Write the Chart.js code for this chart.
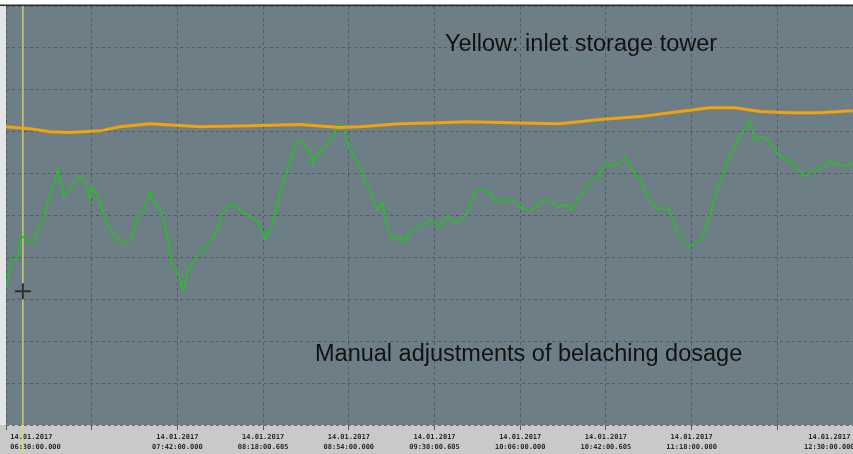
<!DOCTYPE html>
<html lang="en">
<head>
  <meta charset="UTF-8" />
  <title>Bleaching dosage trend</title>
  <script src="https://cdn.jsdelivr.net/npm/chart.js"></script>
  <style>
    html, body {
      margin: 0;
      padding: 0;
      overflow: hidden;
      background: #fff;
    }
    .wrap {
      position: relative;
      width: 865px;
      height: 454px;
    }
  </style>
</head>
<body>
  <div class="wrap">
    <canvas id="chart"></canvas>
  </div>

  <script>
    // === Data (x = minutes after 06:30, y = grid units 0..10) ===
    const tickDates = ['14.01.2017', '', '14.01.2017', '14.01.2017', '14.01.2017', '14.01.2017',
                       '14.01.2017', '14.01.2017', '14.01.2017', '', '14.01.2017'];
    const tickTimes = ['06:30:00.000', '', '07:42:00.000', '08:18:00.605', '08:54:00.000', '09:30:00.605',
                       '10:06:00.000', '10:42:00.605', '11:18:00.000', '', '12:30:00.000'];

    // Yellow: inlet storage tower
    const towerT = [0, 10.1, 18.5, 26.9, 39.5, 47.9, 60.5, 81.5, 102.5, 123.5, 140.3, 148.7,
                    165.5, 178.1, 194.9, 215.9, 232.7, 249.5, 266.3, 283.1, 295.7, 306.2,
                    316.7, 329.3, 341.9, 355.7];
    const towerV = [7.12, 7.07, 7.00, 6.98, 7.02, 7.12, 7.19, 7.12, 7.14, 7.17, 7.10, 7.12,
                    7.19, 7.21, 7.24, 7.21, 7.19, 7.29, 7.36, 7.48, 7.57, 7.57,
                    7.48, 7.45, 7.45, 7.50];

    // Green: bleaching dosage
    const dosageT = [0, 2.5, 5.0, 6.7, 8.8, 10.9, 13.4, 16.0, 18.5, 20.6, 21.8, 22.7, 24.4, 26.9,
                     29.0, 31.1, 33.2, 35.3, 36.1, 39.5, 41.6, 44.5, 47.9, 50.0, 52.9, 55.4, 58.4,
                     60.5, 62.6, 65.5, 68.0, 69.7, 72.2, 73.9, 74.8, 76.4, 79.4, 82.3, 85.7, 89.0,
                     91.1, 93.2, 96.2, 99.1, 102.5, 105.8, 108.8, 111.7, 114.2, 117.2, 120.1, 122.6,
                     125.6, 127.7, 128.9, 129.8, 131.9, 135.2, 137.3, 140.3, 142.4, 144.5, 147.8,
                     150.8, 153.7, 156.2, 158.3, 160.4, 162.5, 165.5, 167.6, 169.7, 173.9, 178.1,
                     182.3, 185.2, 188.6, 190.7, 194.0, 197.0, 199.1, 203.3, 205.4, 209.6, 213.8,
                     216.7, 220.1, 224.3, 228.5, 231.8, 234.8, 237.7, 241.1, 245.3, 249.5, 252.0,
                     254.5, 257.9, 260.4, 262.9, 266.3, 269.6, 272.6, 275.5, 278.0, 279.7, 282.2,
                     284.8, 287.3, 289.8, 292.3, 295.7, 298.2, 300.7, 303.2, 305.8, 308.3, 310.8,
                     312.5, 314.6, 317.5, 320.0, 323.0, 325.9, 329.3, 332.6, 335.6, 338.5, 341.9,
                     346.1, 350.3, 353.6, 355.7];
    const dosageV = [3.31, 3.88, 4.02, 4.50, 4.43, 4.36, 4.60, 4.98, 5.45, 5.86, 6.10, 5.93, 5.45, 5.62,
                     5.79, 5.93, 5.79, 5.38, 5.69, 5.38, 4.90, 4.60, 4.36, 4.31, 4.50, 4.95, 5.21,
                     5.55, 5.31, 5.07, 4.43, 3.79, 3.64, 3.31, 3.21, 3.71, 3.95, 4.14, 4.36, 4.67,
                     5.07, 5.21, 5.26, 5.10, 4.98, 4.86, 4.43, 4.74, 5.31, 5.93, 6.40, 6.81,
                     6.69, 6.50, 6.21, 6.38, 6.50, 6.74, 6.88, 7.21, 6.98, 6.57, 6.26,
                     5.86, 5.45, 5.14, 5.31, 4.67, 4.43, 4.50, 4.36, 4.62, 4.71, 4.90,
                     4.74, 4.98, 4.83, 4.90, 5.07, 5.55, 5.62, 5.55, 5.31, 5.38, 5.33,
                     5.19, 5.10, 5.31, 5.38, 5.19, 5.26, 5.14, 5.45, 5.79, 5.98, 6.26,
                     6.17, 6.26, 6.40, 6.10, 5.86, 5.45, 5.19, 5.14, 5.21, 4.98, 4.60,
                     4.36, 4.26, 4.36, 4.43, 4.98, 5.55, 5.93, 6.26, 6.64, 6.88, 7.12,
                     7.24, 6.81, 6.88, 6.81, 6.57, 6.38, 6.29, 6.10, 5.93, 6.05, 6.10,
                     6.29, 6.21, 6.17, 6.26];

    // cursor
    const cursorT = 7.1;
    const cursorV = 3.19;

    const notes = [
      { text: 'Yellow: inlet storage tower', t: 184.4, v: 8.92 },
      { text: 'Manual adjustments of belaching dosage', t: 129.8, v: 1.52 }
    ];

    const toXY = (ts, vs) => ts.map((t, i) => ({ x: t, y: vs[i] }));

    // === Plot background, axis band, cursor, annotations ===
    const scopePlugin = {
      id: 'scope',
      beforeDraw(chart) {
        const { ctx, chartArea: a, width, height } = chart;
        ctx.save();
        ctx.fillStyle = '#ffffff';
        ctx.fillRect(0, 0, width, height);
        ctx.fillStyle = '#e4e6e6';
        ctx.fillRect(0, a.top, a.left, a.bottom - a.top);
        ctx.fillStyle = '#6e7e87';
        ctx.fillRect(a.left, a.top, a.right - a.left, a.bottom - a.top);
        ctx.fillStyle = '#c9c9c9';
        ctx.fillRect(0, a.bottom, width, height - a.bottom);
        ctx.strokeStyle = '#2b2b2b';
        ctx.lineWidth = 1.5;
        ctx.beginPath();
        ctx.moveTo(0, a.top - 0.8);
        ctx.lineTo(width, a.top - 0.8);
        ctx.stroke();
        ctx.restore();
      },
      beforeDatasetsDraw(chart) {
        const { ctx, chartArea: a, height, scales } = chart;
        const x = scales.x.getPixelForValue(cursorT);
        ctx.save();
        ctx.strokeStyle = '#d8d66c';
        ctx.lineWidth = 1.3;
        ctx.beginPath();
        ctx.moveTo(x, a.top);
        ctx.lineTo(x, height);
        ctx.stroke();
        ctx.restore();
      },
      afterDraw(chart) {
        const { ctx, scales } = chart;
        ctx.save();
        ctx.fillStyle = '#111111';
        ctx.font = '23.5px "Liberation Sans", Arial, sans-serif';
        ctx.textAlign = 'left';
        ctx.textBaseline = 'alphabetic';
        notes.forEach(n => {
          ctx.fillText(n.text, scales.x.getPixelForValue(n.t), scales.y.getPixelForValue(n.v));
        });
        ctx.restore();
      }
    };

    const ctx = document.getElementById('chart').getContext('2d');
    new Chart(ctx, {
      type: 'line',
      data: {
        datasets: [
          {
            label: 'Inlet storage tower',
            data: toXY(towerT, towerV),
            borderColor: '#f2a20a',
            borderWidth: 3,
            pointRadius: 0,
            tension: 0
          },
          {
            label: 'Bleaching dosage',
            data: toXY(dosageT, dosageV),
            borderColor: '#1fc41c',
            borderWidth: 1.5,
            pointRadius: 0,
            tension: 0
          },
          {
            label: 'Cursor',
            data: [{ x: cursorT, y: cursorV }],
            showLine: false,
            pointStyle: 'cross',
            pointRadius: 8,
            borderColor: '#2c2f33',
            borderWidth: 2
          }
        ]
      },
      options: {
        responsive: true,
        maintainAspectRatio: false,
        animation: false,
        layout: { autoPadding: false, padding: { left: 6, top: 6, right: 0, bottom: 0 } },
        plugins: {
          legend: { display: false },
          tooltip: { enabled: false }
        },
        scales: {
          x: {
            type: 'linear',
            min: 0,
            max: 360,
            border: { display: false, dash: [3, 3] },
            grid: {
              color: 'rgba(70, 80, 88, 0.75)',
              lineWidth: 1,
              tickLength: 5,
              tickColor: '#5a5a5a'
            },
            ticks: {
              stepSize: 36,
              autoSkip: false,
              maxRotation: 0,
              align: 'inner',
              padding: 2,
              color: '#2a2a2a',
              font: { family: '"DejaVu Sans Mono", monospace', size: 7, weight: 'bold', lineHeight: 1.4 },
              callback: (value, i) => {
                if (!tickTimes[i]) return '';
                if (i === 0) return [' ' + tickDates[i], ' ' + tickTimes[i]];
                if (i === tickTimes.length - 1) return [tickDates[i] + '   ', tickTimes[i] + '  '];
                return [tickDates[i], tickTimes[i]];
              }
            },
            afterFit: (scale) => { scale.height = 29; }
          },
          y: {
            min: 0,
            max: 10,
            border: { display: false, dash: [3, 3] },
            grid: {
              color: 'rgba(70, 80, 88, 0.75)',
              lineWidth: 1,
              drawTicks: false
            },
            ticks: { display: false, stepSize: 1 },
            afterFit: (scale) => { scale.width = 0; }
          }
        }
      },
      plugins: [scopePlugin]
    });
  </script>
</body>
</html>
